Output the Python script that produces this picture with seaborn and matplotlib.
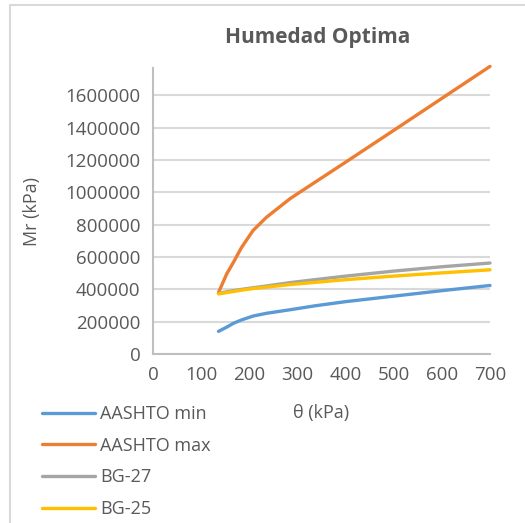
import matplotlib
matplotlib.use("Agg")
import matplotlib.pyplot as plt
import matplotlib.patches as mpatches
import seaborn as sns
import pandas as pd

theta = [136, 153, 167, 184, 208, 236, 285, 336, 400, 500, 600, 700]
aashto_min = [140000, 166000, 190000, 211000, 235000, 252000, 274000, 298000, 324000, 358000, 392000, 424000]
aashto_max = [380000, 495000, 567000, 660000, 765000, 847000, 962000, 1062000, 1187000, 1384000, 1582000, 1780000]
bg27 = [375000, 385000, 392000, 400000, 410000, 421000, 442000, 460000, 482000, 513000, 540000, 563000]
bg25 = [372000, 380000, 387000, 395000, 405000, 414000, 430000, 443000, 460000, 482000, 502000, 521000]

series_names = ["AASHTO min", "AASHTO max", "BG-27", "BG-25"]
colors = ["#5B9BD5", "#ED7D31", "#A5A5A5", "#FFC000"]
x_ticks = [0, 100, 200, 300, 400, 500, 600, 700]
y_ticks = [0, 200000, 400000, 600000, 800000, 1000000, 1200000, 1400000, 1600000]

rows = []
for name, vals in zip(series_names, [aashto_min, aashto_max, bg27, bg25]):
    for t, v in zip(theta, vals):
        rows.append({"theta": t, "Mr": v, "serie": name})
df = pd.DataFrame(rows)

sns.set_theme(style="white")
plt.rcParams["font.family"] = ["Open Sans", "DejaVu Sans"]

fig = plt.figure(figsize=(5.25, 5.23), dpi=100)
fig.patch.set_facecolor("white")
ax = fig.add_axes([153/525, 1-354/523, (490-153)/525, (354-68)/523])

sns.lineplot(data=df, x="theta", y="Mr", hue="serie", hue_order=series_names,
             palette=colors, linewidth=2.4, ax=ax, legend=True, sort=False)
for ln in ax.lines:
    ln.set_clip_on(False)
    ln.set_solid_capstyle("round")
    ln.set_solid_joinstyle("round")

ax.set_xlim(0, 700)
ax.set_ylim(0, 1770000)
ax.set_xticks(x_ticks)
ax.set_yticks(y_ticks)
ax.set_xticklabels([str(v) for v in x_ticks])
ax.set_yticklabels([str(v) for v in y_ticks])
ax.tick_params(axis="both", length=0, labelsize=13.5, colors="#595959", pad=9)
ax.yaxis.grid(True, color="#D9D9D9", linewidth=1.5)
ax.xaxis.grid(False)
for s in ["top", "right"]:
    ax.spines[s].set_visible(False)
ax.spines["left"].set_color("#BFBFBF")
ax.spines["left"].set_linewidth(1.5)
ax.spines["bottom"].set_color("#BFBFBF")
ax.spines["bottom"].set_linewidth(1.5)
ax.set_axisbelow(True)

ax.set_xlabel("")
ax.set_ylabel("")
fig.text(321/525, 1-413/523, "θ (kPa)", ha="center", va="center", fontsize=13, color="#595959")
fig.text(32/525, 1-212/523, "Mr (kPa)", ha="center", va="center", rotation=90, fontsize=13, color="#595959")
fig.text(318/525, 1-38/523, "Humedad Optima", ha="center", va="center", fontsize=15,
         fontweight="bold", color="#595959")

handles, labels = ax.get_legend_handles_labels()
ax.get_legend().remove()
leg = fig.legend(handles, labels, loc="upper left", bbox_to_anchor=(35/525, 1-398/523),
                 frameon=False, fontsize=13, handlelength=2.9, handletextpad=0.3,
                 labelspacing=0.75, borderaxespad=0)
for t in leg.get_texts():
    t.set_color("#595959")
for h in leg.get_lines():
    h.set_linewidth(2.4)

fig.patches.append(mpatches.Rectangle((10/525, -0.05), 1.2, 1-5/523+0.05,
                                      transform=fig.transFigure, fill=False,
                                      edgecolor="#D9D9D9", linewidth=1.5))

fig.savefig("out.png", dpi=100)
